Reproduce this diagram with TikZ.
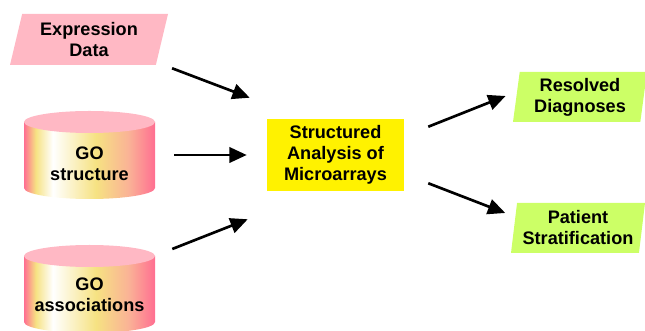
\documentclass[tikz,border=0pt]{standalone}
\usepackage{fontspec}
\setmainfont{Liberation Sans}
\usetikzlibrary{shapes.geometric,arrows.meta}
\definecolor{inpink}{RGB}{255,184,196}
\definecolor{outgreen}{RGB}{204,255,102}
\definecolor{cylred}{RGB}{255,110,145}
\definecolor{cylyel}{RGB}{246,226,130}
\definecolor{cylsal}{RGB}{250,178,150}
\pgfdeclarehorizontalshading{cylside}{100bp}{color(0bp)=(cylred); color(25bp)=(cylred); color(29.5bp)=(cylyel); color(36bp)=(white); color(52.5bp)=(cylyel); color(65bp)=(cylsal); color(75bp)=(cylred); color(100bp)=(cylred)}
\tikzset{
  lbl/.style={font=\fontsize{13.6}{15.75}\selectfont\bfseries, align=center},
  inbox/.style={lbl, trapezium, trapezium stretches body, fill=inpink, inner sep=0pt,
    trapezium left angle=70.5, trapezium right angle=109.5,
    minimum width=118.5pt, minimum height=38.25pt},
  outbox/.style={lbl, trapezium, trapezium stretches body, fill=outgreen, inner sep=0pt,
    trapezium left angle=80, trapezium right angle=100,
    minimum width=100.5pt, minimum height=37.5pt},
  disklbl/.style={lbl, minimum width=98.25pt, inner sep=0pt},
  arr/.style={line width=2pt, -{Triangle[length=13pt, width=11.5pt]}}
}

\begin{document}
\begin{tikzpicture}[x=0.75pt, y=0.75pt]
\useasboundingbox (0,0) rectangle (645,331);

% GO disks
\shade[shading=cylside] (24,209) -- (24,143) arc[start angle=180, end angle=360, x radius=65.5, y radius=11] -- (155,209) -- cycle;
\fill[inpink] (89.5,209) ellipse[x radius=65.5, y radius=11];
\shade[shading=cylside] (24,75) -- (24,9) arc[start angle=180, end angle=360, x radius=65.5, y radius=11] -- (155,75) -- cycle;
\fill[inpink] (89.5,75) ellipse[x radius=65.5, y radius=11];

% Inputs
\node[inbox] (expr) at (89,291.5) {Expression\\Data};
\node[disklbl] (gostruct) at (89.5,167) {GO\\structure};
\node[disklbl] (goassoc) at (89.5,36) {GO\\associations};

% Analysis
\node[lbl, fill=yellow, minimum width=102.75pt, minimum height=54pt, inner sep=0pt] (sam) at (335.5,176) {Structured\\Analysis of\\Microarrays};

% Outputs
\node[outbox] (resolved) at (580,234) {Resolved\\Diagnoses};
\node[outbox] (patient) at (578,103) {Patient\\Stratification};

% Arrows
\draw[arr] ([shift={(16,-3)}]expr.bottom right corner) -- ([shift={(-17,21)}]sam.north west);
\draw[arr] ([shift={(19,9)}]gostruct.east) -- ([shift={(-20,0)}]sam.west);
\draw[arr] ([shift={(17,46)}]goassoc.east) -- ([shift={(-19,-28)}]sam.south west);
\draw[arr] ([shift={(24,-8)}]sam.north east) -- ([shift={(-10.5,1)}]resolved.west);
\draw[arr] ([shift={(24,8)}]sam.south east) -- ([shift={(-8.5,15)}]patient.west);
\end{tikzpicture}
\end{document}
